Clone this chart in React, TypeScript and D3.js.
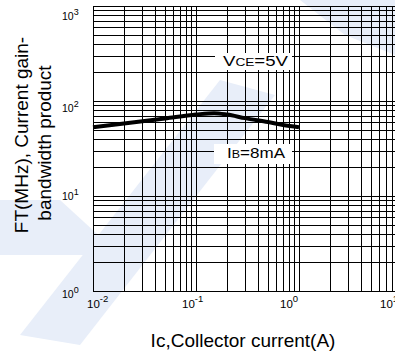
import React from 'react';
import * as d3 from 'd3';

// Ic (A) vs fT (MHz), VCE=5V
const icValues = [0.01, 0.02, 0.05, 0.1, 0.15, 0.2, 0.3, 0.5, 0.7, 1.0];
const ftValues = [53, 58, 65.5, 72, 74.5, 72, 66, 60, 56, 53];

const xTickValues = [0.01, 0.1, 1, 10];
const xTickExp = ['-2', '-1', '0', '1'];
const yTickValues = [1, 10, 100, 1000];
const yTickExp = ['0', '1', '2', '3'];

const xTitle = 'Ic,Collector current(A)';
const yTitleLines = ['FT(MHz), Current gain-', 'bandwidth product'];

const W = 395;
const H = 352;
const FONT = 'Liberation Sans, Arial, sans-serif';

export default function App() {
  const left = 93, right = 402, top = 6, bottom = 291;

  const x = d3.scaleLog().domain([0.01, 10]).range([left, right]);
  const y = d3.scaleLog().domain([1, 1000]).range([bottom, top]);

  // minor + major grid values over each decade
  const xGrid: number[] = [];
  [-2, -1, 0].forEach((e) => d3.range(1, 10).forEach((k) => xGrid.push(k * Math.pow(10, e))));
  xGrid.push(10);
  const yGrid: number[] = [];
  [0, 1, 2].forEach((e) => d3.range(1, 10).forEach((k) => yGrid.push(k * Math.pow(10, e))));
  yGrid.push(1000);

  const line = d3.line<number>()
    .x((d, i) => x(icValues[i]))
    .y((d) => y(d))
    .curve(d3.curveMonotoneX);

  // label nudges, the original labels drift a bit off their gridlines
  const xLabelDx = [-6, -14, -19, -22];
  const yLabelDy = [7, 4, 11, 14];

  const crisp = (v: number) => Math.round(v) + 0.5;

  return (
    <svg width={W} height={H} style={{ position: 'absolute', left: 0, top: 0, background: '#fff' }}>
      {/* watermark */}
      <g fill="#e8eef9">
        <polygon points="20,335 80,345 275,95 220,80" />
        <polygon points="300,0 395,0 395,55 345,35" />
        <polygon points="0,200 0,255 120,255 60,200" />
      </g>

      <g stroke="#000" strokeWidth={1} shapeRendering="crispEdges">
        {xGrid.map((v, i) => (
          <line key={'vx' + i} x1={crisp(x(v))} x2={crisp(x(v))} y1={top} y2={bottom} />
        ))}
        {yGrid.map((v, i) => (
          <line key={'hy' + i} x1={left} x2={right} y1={crisp(y(v))} y2={crisp(y(v))} />
        ))}
      </g>

      <path d={line(ftValues) || ''} fill="none" stroke="#000" strokeWidth={4} />

      {/* annotations */}
      <rect x={215} y={53} width={77} height={17} fill="#fff" />
      <text x={223} y={66} fontFamily={FONT} fontSize={15} textLength={65} lengthAdjust="spacingAndGlyphs">
        V<tspan fontSize={11}>CE</tspan>=5V
      </text>
      <rect x={214} y={144} width={78} height={20} fill="#fff" />
      <text x={227} y={158} fontFamily={FONT} fontSize={15} textLength={58} lengthAdjust="spacingAndGlyphs">
        I<tspan fontSize={11}>B</tspan>=8mA
      </text>

      {/* y tick labels */}
      {yTickValues.map((v, i) => (
        <text key={'yl' + i} x={62} y={y(v) + yLabelDy[i]} fontFamily={FONT} fontSize={10.5}>
          10<tspan fontSize={9} dy={-5}>{yTickExp[i]}</tspan>
        </text>
      ))}

      {/* x tick labels */}
      {xTickValues.map((v, i) => (
        <text key={'xl' + i} x={x(v) + xLabelDx[i]} y={308} fontFamily={FONT} fontSize={11.5}>
          10<tspan fontSize={9.5} dy={-6}>{xTickExp[i]}</tspan>
        </text>
      ))}

      <text x={243} y={347} textAnchor="middle" fontFamily={FONT} fontSize={19}>{xTitle}</text>

      <text transform="translate(28,135) rotate(-90)" textAnchor="middle" fontFamily={FONT} fontSize={19}>
        {yTitleLines[0]}
      </text>
      <text transform="translate(51,143) rotate(-90)" textAnchor="middle" fontFamily={FONT} fontSize={19}>
        {yTitleLines[1]}
      </text>
    </svg>
  );
}
